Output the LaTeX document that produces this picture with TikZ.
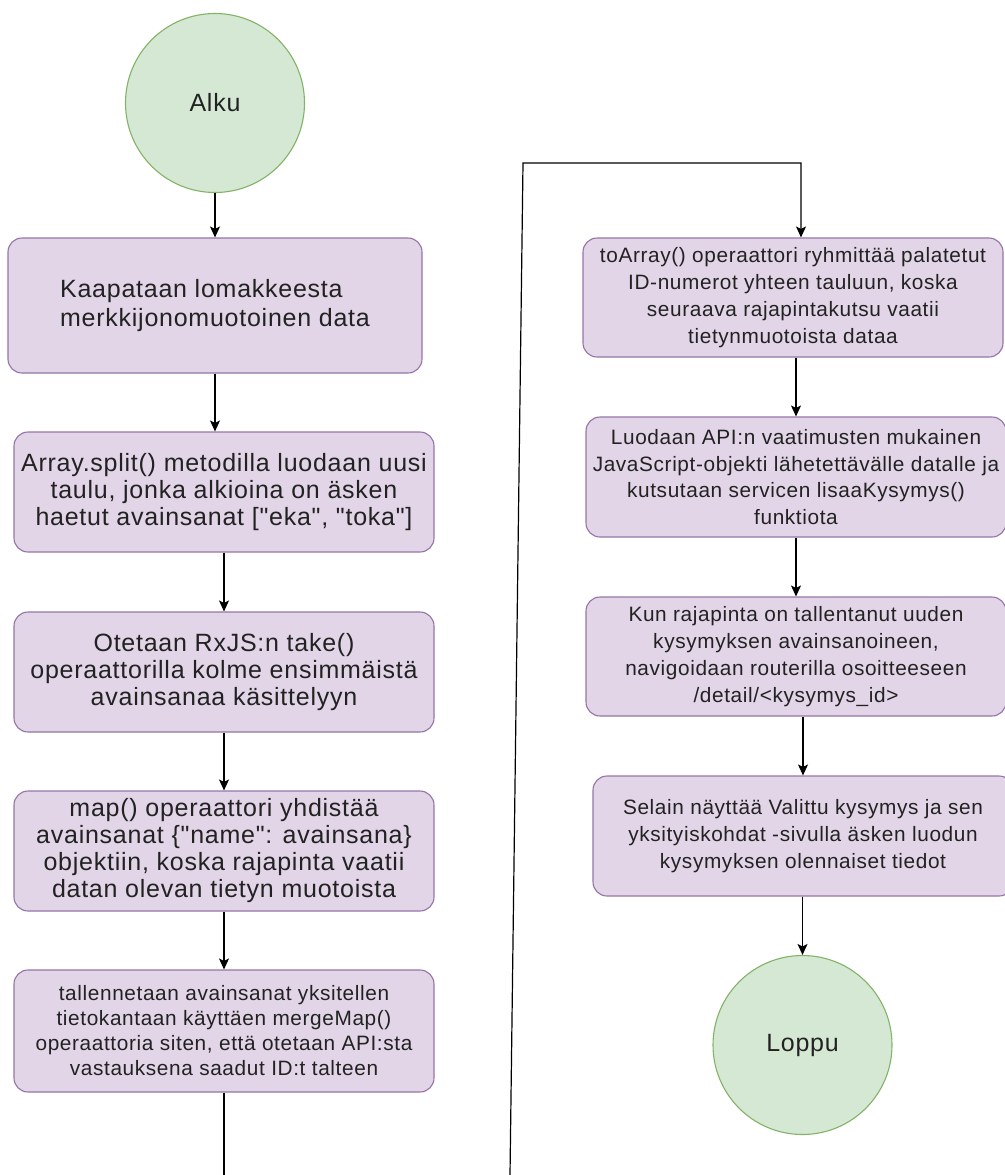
\documentclass[tikz,border=0pt]{standalone}
\usepackage{fontspec}
\setmainfont{Liberation Sans}
\newfontfamily\diafont[LetterSpace=3]{Liberation Sans}
\usetikzlibrary{arrows.meta}
\definecolor{pfill}{HTML}{E1D5E7}
\definecolor{pdraw}{HTML}{9673A6}
\definecolor{gfill}{HTML}{D5E8D4}
\definecolor{gdraw}{HTML}{82B366}
\definecolor{txt}{HTML}{222222}
\tikzset{
  x=1pt, y=-1pt,
  procbox/.style={draw=pdraw, fill=pfill, line width=1.1pt, rounded corners=14pt,
    rectangle, inner sep=0pt, align=center, text=txt},
  bigtxt/.style={font=\diafont\fontsize{25}{27}\selectfont},
  smalltxt/.style={font=\diafont\fontsize{20.8}{26.8}\selectfont},
  term/.style={draw=gdraw, fill=gfill, line width=1.1pt, circle, inner sep=0pt,
    minimum size=179pt, text=txt, font=\diafont\fontsize{25}{28}\selectfont},
  arr/.style={line width=1.2pt, -{Stealth[length=11pt,width=10pt,inset=2.5pt]}},
  ln/.style={line width=1.2pt}
}
\begin{document}
\begin{tikzpicture}
\useasboundingbox (0,0) rectangle (1004,1175);
% terminals
\node[term] (alku) at (215,103) {Alku};
\node[term] (loppu) at (802.5,1045) {Loppu};
% left column
\node[procbox, bigtxt, align=left, minimum width=414pt, minimum height=135pt,
      font=\diafont\fontsize{25}{29}\selectfont] (b1) at (215,305.5)
  {Kaapataan lomakkeesta\\merkkijonomuotoinen data};
\node[procbox, bigtxt, minimum width=420pt, minimum height=120pt] (b2) at (224,492)
  {Array.split() metodilla luodaan uusi\\taulu, jonka alkioina on äsken\\haetut avainsanat ["eka", "toka"]};
\node[procbox, bigtxt, minimum width=420pt, minimum height=120pt] (b3) at (224,672)
  {Otetaan RxJS:n take()\\operaattorilla kolme ensimmäistä\\avainsanaa käsittelyyn};
\node[procbox, bigtxt, minimum width=420pt, minimum height=120pt] (b4) at (224,851)
  {map() operaattori yhdistää\\avainsanat \{"name": avainsana\}\\objektiin, koska rajapinta vaatii\\datan olevan tietyn muotoista};
\node[procbox, smalltxt, minimum width=420pt, minimum height=122pt,
      font=\diafont\fontsize{20.8}{25}\selectfont] (b5) at (224,1031)
  {tallennetaan avainsanat yksitellen\\tietokantaan käyttäen mergeMap()\\operaattoria siten, että otetaan API:sta\\vastauksena saadut ID:t talteen};
% right column
\node[procbox, smalltxt, minimum width=420pt, minimum height=119pt] (r1) at (793,297.5)
  {toArray() operaattori ryhmittää palatetut\\ID-numerot yhteen tauluun, koska\\seuraava rajapintakutsu vaatii\\tietynmuotoista dataa};
\node[procbox, smalltxt, minimum width=420pt, minimum height=120pt] (r2) at (796,477)
  {Luodaan API:n vaatimusten mukainen\\JavaScript-objekti lähetettävälle datalle ja\\kutsutaan servicen lisaaKysymys()\\funktiota};
\node[procbox, smalltxt, minimum width=420pt, minimum height=119pt] (r3) at (796,656.5)
  {Kun rajapinta on tallentanut uuden\\kysymyksen avainsanoineen,\\navigoidaan routerilla osoitteeseen\\/detail/<kysymys\_id>};
\node[procbox, smalltxt, minimum width=420pt, minimum height=120pt] (r4) at (803,836)
  {Selain näyttää Valittu kysymys ja sen\\yksityiskohdat -sivulla äsken luodun\\kysymyksen olennaiset tiedot};
% free ends of the loop connector
\coordinate (lbot) at (224,1175);
\coordinate (rbot) at (510,1175);
\coordinate (ltop) at (523,163);
\coordinate (rtop) at (801,163);
% connectors
\draw[arr] (alku) -- (b1.north -| alku);
\draw[arr] (b1.south) -- (b2.north -| b1);
\draw[arr] (b2.south) -- (b3.north);
\draw[arr] (b3.south) -- (b4.north);
\draw[arr] (b4.south) -- (b5.north);
\draw[ln] (b5.south) -- (lbot);
\draw[arr] (rbot) -- (ltop) -- (rtop) -- (rtop |- r1.north);
\draw[arr] (r1.south -| r2) -- (r2.north);
\draw[arr] (r2.south) -- (r3.north);
\draw[arr] (r3.south -| r4) -- (r4.north);
\draw[arr] (r4.south -| loppu) -- (loppu.north);
\end{tikzpicture}
\end{document}
